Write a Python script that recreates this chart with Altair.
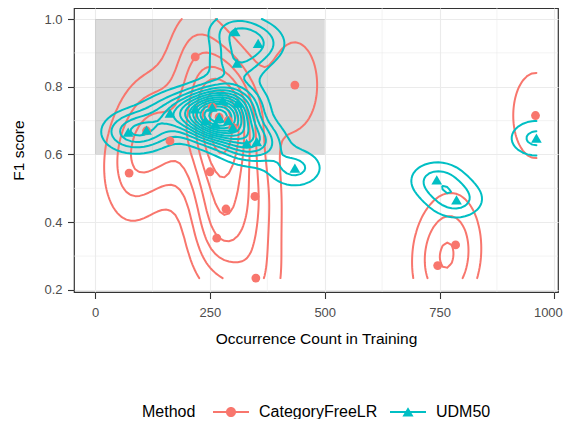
import altair as alt
import numpy as np
import pandas as pd
from collections import defaultdict

# ---------------- data ----------------
methods = ["CategoryFreeLR", "UDM50"]
colors = ["#F8766D", "#00BFC4"]

cf_x = [74, 112, 163, 218, 250, 255, 265, 270, 285, 290, 300, 348, 350, 435, 746, 785, 959]
cf_y = [0.545, 0.67, 0.64, 0.888, 0.549, 0.74, 0.353, 0.71, 0.439, 0.70, 0.68, 0.476, 0.235, 0.805, 0.272, 0.333, 0.715]

udm_x = [72, 112, 163, 218, 240, 255, 262, 270, 278, 290, 300, 305, 309, 311, 330, 352, 355, 435, 744, 787, 961]
udm_y = [0.666, 0.672, 0.722, 0.735, 0.70, 0.74, 0.69, 0.71, 0.76, 0.70, 0.68, 0.963, 0.870, 0.752, 0.633, 0.638, 0.928, 0.560, 0.525, 0.466, 0.648]

rect_x = [0, 500]
rect_y = [0.6, 1.0]

x_ticks = [0, 250, 500, 750, 1000]
y_ticks = [0.2, 0.4, 0.6, 0.8, 1.0]
minor_x = [125, 375, 625, 875]
minor_y = [0.3, 0.5, 0.7, 0.9]

# ---------------- 2d density contours (as ggplot2 stat_density_2d) ----------------
def bw_nrd(v):
    v = np.asarray(v, float)
    q1, q3 = np.percentile(v, [25, 75])
    h = (q3 - q1) / 1.34
    return 4 * 1.06 * min(np.std(v, ddof=1), h) * len(v) ** (-0.2)


def kde2d(x, y, lims, n=100):
    x = np.asarray(x, float)
    y = np.asarray(y, float)
    gx = np.linspace(lims[0], lims[1], n)
    gy = np.linspace(lims[2], lims[3], n)
    hx = bw_nrd(x) / 4
    hy = bw_nrd(y) / 4
    ax = (gx[:, None] - x[None, :]) / hx
    ay = (gy[:, None] - y[None, :]) / hy
    nx = np.exp(-0.5 * ax ** 2) / np.sqrt(2 * np.pi)
    ny = np.exp(-0.5 * ay ** 2) / np.sqrt(2 * np.pi)
    z = nx @ ny.T / (len(x) * hx * hy)
    return gx, gy, z


def pretty(lo, hi, n=10):
    cell = (hi - lo) / n
    U = 10 ** np.floor(np.log10(cell))
    unit = U
    if 2 * U - cell < 1.5 * (cell - unit):
        unit = 2 * U
        if 5 * U - cell < 2.75 * (cell - unit):
            unit = 5 * U
            if 10 * U - cell < 1.5 * (cell - unit):
                unit = 10 * U
    ns = np.floor(lo / unit + 1e-7)
    nu = np.ceil(hi / unit - 1e-7)
    return np.arange(ns, nu + 1) * unit


def isolines(gx, gy, z, level):
    nxg, nyg = z.shape

    def pt(key):
        kind, i, j = key
        if kind == "h":
            v1, v2 = z[i, j], z[i + 1, j]
            t = (level - v1) / (v2 - v1)
            return gx[i] + t * (gx[i + 1] - gx[i]), gy[j]
        v1, v2 = z[i, j], z[i, j + 1]
        t = (level - v1) / (v2 - v1)
        return gx[i], gy[j] + t * (gy[j + 1] - gy[j])

    ab = z >= level
    segs = []
    for i in range(nxg - 1):
        for j in range(nyg - 1):
            b = [ab[i, j], ab[i + 1, j], ab[i + 1, j + 1], ab[i, j + 1]]
            if all(b) or not any(b):
                continue
            e = [("h", i, j), ("v", i + 1, j), ("h", i, j + 1), ("v", i, j)]
            crossed = [k for k in range(4) if b[k] != b[(k + 1) % 4]]
            if len(crossed) == 2:
                segs.append((e[crossed[0]], e[crossed[1]]))
            else:
                centre = (z[i, j] + z[i + 1, j] + z[i + 1, j + 1] + z[i, j + 1]) / 4 >= level
                if b[0] == centre:
                    segs.append((e[0], e[1]))
                    segs.append((e[2], e[3]))
                else:
                    segs.append((e[0], e[3]))
                    segs.append((e[1], e[2]))
    adj = defaultdict(list)
    for k, (a, c) in enumerate(segs):
        adj[a].append(k)
        adj[c].append(k)
    used = [False] * len(segs)
    paths = []
    for k in range(len(segs)):
        if used[k]:
            continue
        used[k] = True
        chain = [segs[k][0], segs[k][1]]
        for direction in (1, 0):
            while True:
                end = chain[-1] if direction else chain[0]
                nxt = None
                for s in adj[end]:
                    if not used[s]:
                        nxt = s
                        break
                if nxt is None:
                    break
                used[nxt] = True
                a, c = segs[nxt]
                other = c if a == end else a
                if direction:
                    chain.append(other)
                else:
                    chain.insert(0, other)
        paths.append([pt(key) for key in chain])
    return paths


all_x = cf_x + udm_x + rect_x
all_y = cf_y + udm_y + rect_y
lims = [min(all_x), max(all_x), min(all_y), max(all_y)]

rows = []
pid = 0
for m, xs_, ys_ in [(methods[0], cf_x, cf_y), (methods[1], udm_x, udm_y)]:
    gx, gy, z = kde2d(xs_, ys_, lims)
    for lev in pretty(z.min(), z.max(), 10):
        if lev <= z.min() or lev >= z.max():
            continue
        for path in isolines(gx, gy, z, lev):
            for o, (px, py) in enumerate(path):
                rows.append({"Method": m, "path": pid, "order": o, "x": px, "y": py})
            pid += 1
contours = pd.DataFrame(rows)

points = pd.DataFrame({
    "Method": [methods[0]] * len(cf_x) + [methods[1]] * len(udm_x),
    "x": cf_x + udm_x,
    "y": cf_y + udm_y,
})

# ---------------- chart ----------------
FONT = "Liberation Sans"
xs = alt.Scale(domain=[-46, 1008], nice=False, zero=False)
ys = alt.Scale(domain=[0.194, 1.0325], nice=False, zero=False)
cscale = alt.Scale(domain=methods, range=colors)

x_axis = alt.Axis(values=x_ticks, title="Occurrence Count in Training", grid=True, format="d",
                  labelFontSize=13, titleFontSize=15.5, tickSize=6.5, labelPadding=7.5,
                  titlePadding=12,
                  labelAlign=alt.ExprRef(expr="datum.value >= 1000 ? 'right' : 'center'"),
                  labelOffset=alt.ExprRef(expr="datum.value >= 1000 ? 8 : 0"))
y_axis = alt.Axis(values=y_ticks, title="F1 score", grid=True, format=".1f",
                  labelFontSize=13, titleFontSize=15.5, tickSize=6.5, labelPadding=5.5,
                  titlePadding=17)

# legend symbols: line + marker, in unit coordinates of the symbol box
circle_path = ("M0,-1M0,1M-1,-0.055L1,-0.055L1,0.055L-1,0.055Z "
               "M-0.28,0A0.28,0.28 0 1,1 0.28,0A0.28,0.28 0 1,1 -0.28,0Z")
tri_path = ("M0,-1M0,1M-1,-0.055L1,-0.055L1,0.055L-1,0.055Z "
            "M0,-0.27L0.31,0.25L-0.31,0.25Z")

# first layer: carries the axes and the legend (draws no marks itself)
legend_layer = alt.Chart(points).transform_filter("false").mark_point(
    filled=True, opacity=1
).encode(
    x=alt.X("x:Q", scale=xs, axis=x_axis),
    y=alt.Y("y:Q", scale=ys, axis=y_axis),
    color=alt.Color("Method:N", scale=cscale, legend=alt.Legend(
        title="Method", orient="none", direction="horizontal", titleOrient="left",
        titleAnchor="middle", titleBaseline="middle",
        legendX=68, legendY=386, symbolSize=1296, symbolOpacity=1, symbolStrokeWidth=0,
        labelFontSize=16, titleFontSize=16, titleFontWeight="normal",
        labelColor="black", titleColor="black", labelOffset=10, columnPadding=12,
        titlePadding=17, labelFont=FONT, titleFont=FONT)),
    shape=alt.Shape("Method:N", scale=alt.Scale(domain=methods, range=[circle_path, tri_path])),
)

minor_x_layer = alt.Chart(pd.DataFrame({"v": minor_x})).mark_rule(
    color="#EBEBEB", strokeWidth=0.6
).encode(x=alt.X("v:Q", scale=xs))

minor_y_layer = alt.Chart(pd.DataFrame({"v": minor_y})).mark_rule(
    color="#EBEBEB", strokeWidth=0.6
).encode(y=alt.Y("v:Q", scale=ys))

rect_layer = alt.Chart(pd.DataFrame({"x": [rect_x[0]], "x2": [rect_x[1]],
                                     "y": [rect_y[0]], "y2": [rect_y[1]]})).mark_rect(
    color="black", opacity=0.14
).encode(
    x=alt.X("x:Q", scale=xs),
    x2="x2:Q",
    y=alt.Y("y:Q", scale=ys),
    y2="y2:Q",
)


def contour_layer(m):
    return alt.Chart(contours[contours.Method == m]).mark_line(
        strokeWidth=2, clip=True, strokeJoin="round", strokeCap="round"
    ).encode(
        x=alt.X("x:Q", scale=xs),
        y=alt.Y("y:Q", scale=ys),
        color=alt.Color("Method:N", scale=cscale, legend=None),
        detail="path:N",
        order="order:Q",
    )


pts_cf = alt.Chart(points[points.Method == methods[0]]).mark_point(
    shape="circle", filled=True, size=78, opacity=1
).encode(
    x=alt.X("x:Q", scale=xs),
    y=alt.Y("y:Q", scale=ys),
    color=alt.Color("Method:N", scale=cscale, legend=None),
)
pts_udm = alt.Chart(points[points.Method == methods[1]]).mark_point(
    shape="triangle-up", filled=True, size=115, opacity=1
).encode(
    x=alt.X("x:Q", scale=xs),
    y=alt.Y("y:Q", scale=ys),
    color=alt.Color("Method:N", scale=cscale, legend=None),
)

chart = alt.layer(
    legend_layer, minor_x_layer, minor_y_layer, rect_layer,
    contour_layer(methods[0]), contour_layer(methods[1]),
    pts_cf, pts_udm,
).properties(
    width=484, height=284,
    padding={"left": 66, "top": 0, "right": 7, "bottom": 127},
    autosize=alt.AutoSizeParams(type="none"),
).configure_view(
    stroke="#333333", strokeWidth=1.2
).configure_axis(
    labelFont=FONT, titleFont=FONT, labelColor="#4D4D4D", titleColor="black",
    titleFontWeight="normal", tickColor="#333333", tickWidth=1.1,
    gridColor="#EBEBEB", gridWidth=1.1, domain=False,
).configure_legend(
    labelFont=FONT, titleFont=FONT
)

chart.save("out.html", embed_options={"renderer": "svg", "actions": False})
